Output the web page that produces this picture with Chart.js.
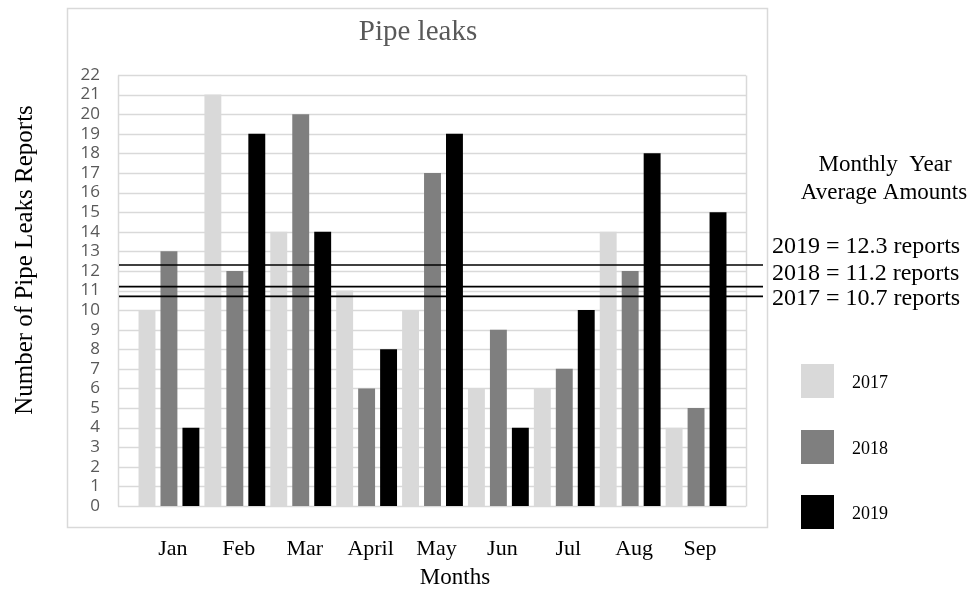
<!DOCTYPE html>
<html>
<head>
<meta charset="utf-8">
<title>Pipe leaks</title>
<script src="https://cdn.jsdelivr.net/npm/chart.js@4.4.1/dist/chart.umd.min.js"></script>
<style>
  html, body { margin: 0; padding: 0; background: #ffffff; }
  #wrap { width: 973px; height: 592px; }
</style>
</head>
<body>
<div id="wrap"><canvas id="chart" width="973" height="592"></canvas></div>
<script>
// Monthly pipe leak reports per year
const months = ['Jan', 'Feb', 'Mar', 'April', 'May', 'Jun', 'Jul', 'Aug', 'Sep'];
const years = ['2017', '2018', '2019'];
const leaks2017 = [10, 21, 14, 11, 10, 6, 6, 14, 4];
const leaks2018 = [13, 12, 20, 6, 17, 9, 7, 12, 5];
const leaks2019 = [4, 19, 14, 8, 19, 4, 10, 18, 15];
// Average monthly reports for each year (same order as years)
const yearAverages = [10.7, 11.2, 12.3];
const yMin = 0;
const yMax = 22;

const barColors = ['#d9d9d9', '#7f7f7f', '#000000'];
const serif = '"Liberation Serif", "Times New Roman", serif';

// Frame, gridlines, titles, average lines and the legend
const decorations = {
  id: 'decorations',
  beforeDraw(chart) {
    const ctx = chart.ctx;
    ctx.save();
    ctx.fillStyle = '#ffffff';
    ctx.fillRect(0, 0, chart.width, chart.height);
    // outer chart box
    ctx.strokeStyle = '#d9d9d9';
    ctx.lineWidth = 1.5;
    ctx.strokeRect(67.5, 8.5, 700, 519);

    // title
    ctx.fillStyle = '#595959';
    ctx.font = '29px ' + serif;
    ctx.textAlign = 'center';
    ctx.textBaseline = 'middle';
    ctx.fillText('Pipe leaks', 418, 32);

    // axis titles
    ctx.fillStyle = '#000000';
    ctx.font = '23px ' + serif;
    ctx.fillText('Months', 455, 578);
    ctx.save();
    ctx.translate(25, 260);
    ctx.rotate(-Math.PI / 2);
    ctx.font = '25px ' + serif;
    ctx.fillText('Number of Pipe Leaks Reports', 0, 0);
    ctx.restore();

    // average block heading
    ctx.font = '23px ' + serif;
    ctx.fillText('Monthly  Year', 885, 165);
    ctx.fillText('Average Amounts', 884, 193);

    // average labels, newest year first
    ctx.textAlign = 'left';
    ctx.font = '24px ' + serif;
    const labelY = [299, 274, 247];
    for (let i = years.length - 1; i >= 0; i--) {
      ctx.fillText(years[i] + ' = ' + yearAverages[i] + ' reports', 772, labelY[i]);
    }

    // legend
    const legendY = [381, 447, 512];
    chart.data.datasets.forEach((ds, i) => {
      ctx.fillStyle = ds.backgroundColor;
      ctx.fillRect(801, legendY[i] - 17, 33, 34);
      ctx.fillStyle = '#000000';
      ctx.font = '18px ' + serif;
      ctx.textAlign = 'left';
      ctx.fillText(ds.label, 852, legendY[i] + 2);
    });
    ctx.restore();
  },
  beforeDatasetsDraw(chart) {
    const ctx = chart.ctx;
    const y = chart.scales.y;
    const left = 118, right = 746;
    ctx.save();
    ctx.strokeStyle = '#d9d9d9';
    ctx.lineWidth = 1.5;
    y.ticks.forEach(t => {
      const py = Math.round(y.getPixelForValue(t.value)) + 0.5;
      ctx.beginPath();
      ctx.moveTo(left, py);
      ctx.lineTo(right, py);
      ctx.stroke();
    });
    const top = Math.round(y.getPixelForValue(yMax)) + 0.5;
    const bottom = Math.round(y.getPixelForValue(yMin)) + 0.5;
    ctx.beginPath();
    ctx.moveTo(left + 0.5, top);
    ctx.lineTo(left + 0.5, bottom);
    ctx.moveTo(right + 0.5, top);
    ctx.lineTo(right + 0.5, bottom);
    ctx.stroke();
    ctx.restore();
  },
  afterDatasetsDraw(chart) {
    const ctx = chart.ctx;
    const y = chart.scales.y;
    ctx.save();
    ctx.strokeStyle = '#000000';
    ctx.lineWidth = 1.6;
    yearAverages.forEach(v => {
      const py = y.getPixelForValue(v);
      ctx.beginPath();
      ctx.moveTo(119, py);
      ctx.lineTo(763, py);
      ctx.stroke();
    });
    ctx.restore();
  }
};

const seriesValues = [leaks2017, leaks2018, leaks2019];

new Chart(document.getElementById('chart'), {
  type: 'bar',
  data: {
    labels: months,
    datasets: years.map((yr, i) => ({
      label: yr,
      data: seriesValues[i],
      backgroundColor: barColors[i],
      borderWidth: 0,
      categoryPercentage: 1.0,
      barPercentage: 0.77
    }))
  },
  options: {
    responsive: false,
    animation: false,
    devicePixelRatio: 1,
    layout: { padding: { top: 75, right: 244, left: 0, bottom: 0 } },
    plugins: {
      legend: { display: false },
      title: { display: false },
      tooltip: { enabled: false }
    },
    scales: {
      x: {
        grid: { display: false, drawTicks: false },
        border: { display: false },
        ticks: {
          color: '#000000',
          font: { family: serif, size: 22 },
          padding: 30,
          labelOffset: 4,
          maxRotation: 0,
          autoSkip: false
        },
        afterFit(scale) { scale.height = 86; }
      },
      y: {
        min: yMin,
        max: yMax,
        grid: { display: false, drawTicks: false },
        border: { display: false },
        ticks: {
          stepSize: 1,
          autoSkip: false,
          color: '#595959',
          font: { family: '"Open Sans", sans-serif', size: 17 },
          padding: 36
        },
        afterFit(scale) { scale.width = 136; }
      }
    }
  },
  plugins: [decorations]
});
</script>
</body>
</html>
